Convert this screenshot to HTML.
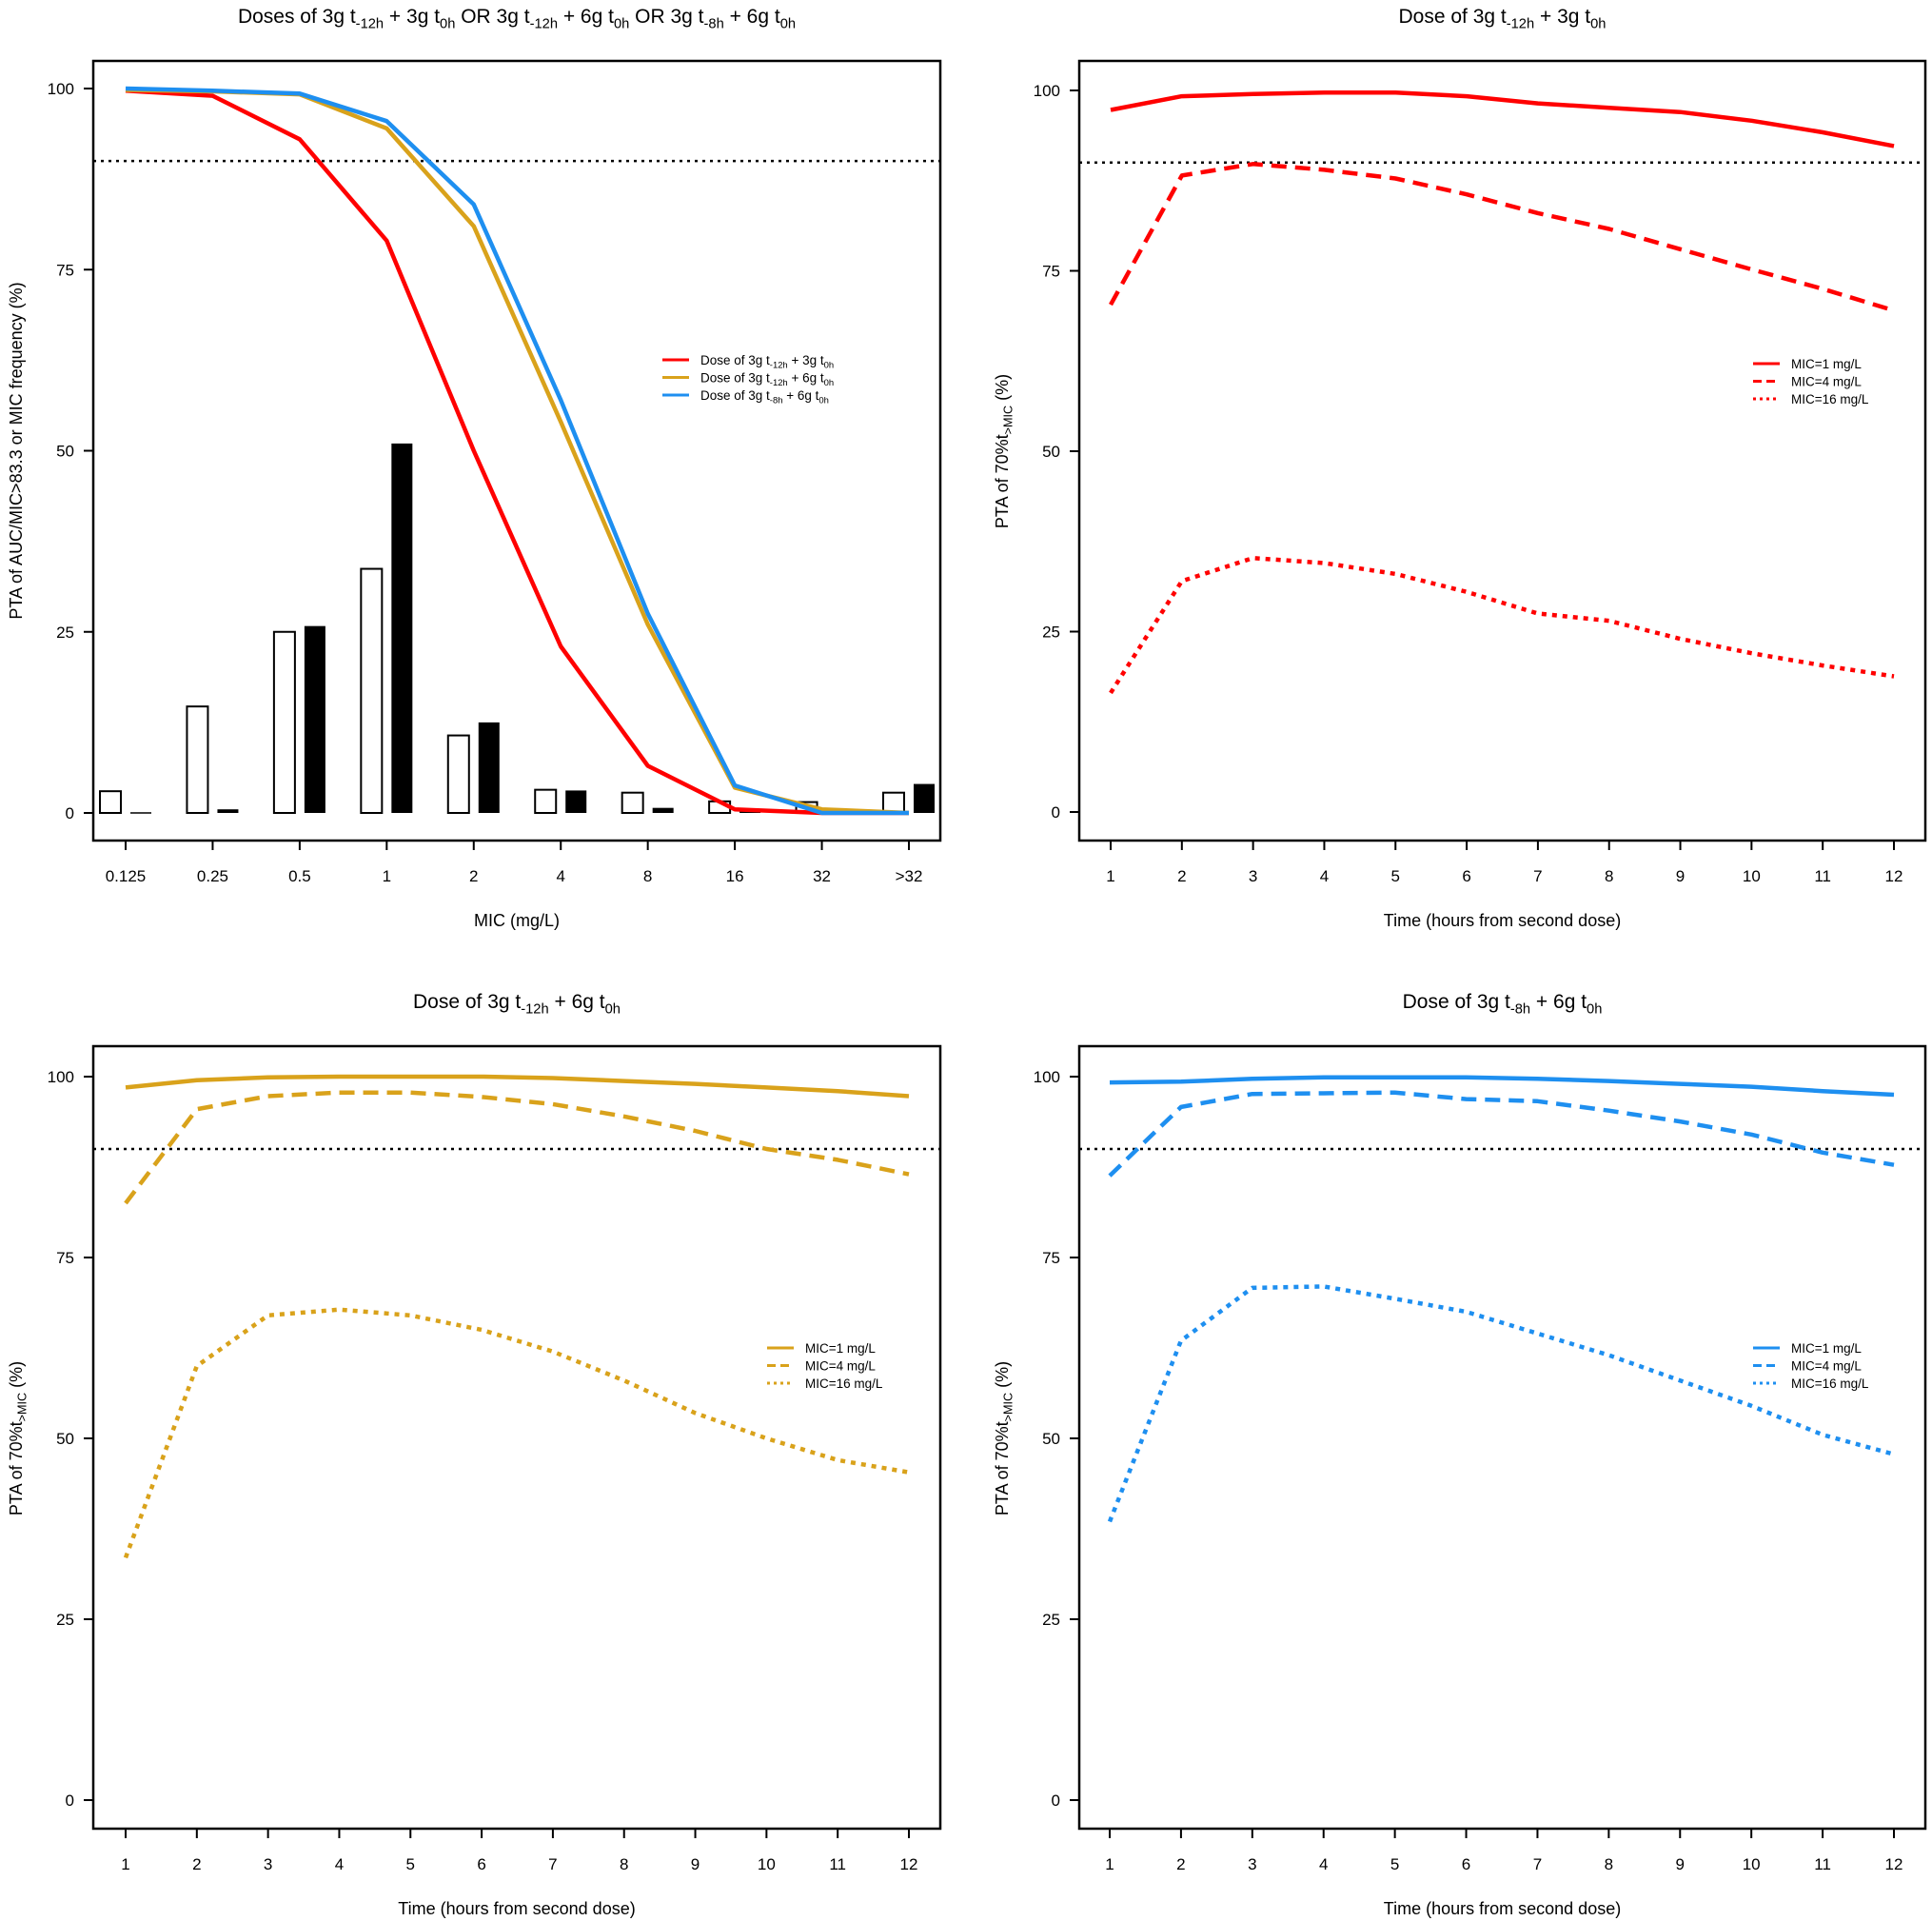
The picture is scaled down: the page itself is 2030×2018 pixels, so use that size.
<!DOCTYPE html>
<html><head><meta charset="utf-8"><style>
html,body{margin:0;padding:0;background:#fff;}
svg{display:block;font-family:"Liberation Sans",Arial,sans-serif;}
</style></head><body>
<svg id="chart" width="2030" height="2018" viewBox="0 0 2030 2018" xmlns="http://www.w3.org/2000/svg"></svg>
<script>
// ---------- data ----------
const micCats = ["0.125","0.25","0.5","1","2","4","8","16","32",">32"];
const redMic = [99.7,99,93,79,50,23,6.5,0.5,0,0];
const goldMic = [99.8,99.6,99.2,94.5,81,54,26,3.5,0.5,0];
const blueMic = [100,99.7,99.3,95.5,84,57,27.5,3.8,0,0];
const freqWhite = [3,14.7,25,33.7,10.7,3.2,2.8,1.6,1.5,2.8];
const freqBlack = [0.1,0.5,25.8,51,12.5,3.1,0.7,0.5,0.6,4];
const hours = [1,2,3,4,5,6,7,8,9,10,11,12];
const redSolid = [97.3,99.2,99.5,99.7,99.7,99.2,98.2,97.6,97,95.8,94.2,92.3];
const redDash = [70.3,88.2,89.8,89,87.8,85.6,83,80.8,78,75.2,72.5,69.5];
const redDot = [16.5,32,35.2,34.5,33,30.5,27.5,26.5,24,22,20.3,18.8];
const goldSolid = [98.5,99.5,99.9,100,100,100,99.8,99.4,99,98.5,98,97.3];
const goldDash = [82.5,95.5,97.3,97.8,97.8,97.2,96.2,94.5,92.5,90,88.5,86.5];
const goldDot = [33.5,60,67,67.8,67,65,62,58,53.5,50,47,45.3];
const blueSolid = [99.2,99.3,99.7,99.9,99.9,99.9,99.7,99.4,99,98.6,98,97.5];
const blueDash = [86.3,95.8,97.6,97.7,97.8,96.9,96.6,95.3,93.8,92,89.5,87.8];
const blueDot = [38.5,63.5,70.8,71,69.3,67.5,64.5,61.5,58,54.5,50.5,47.8];
const yTicks = [0,25,50,75,100];
const target = 90;

const RED="#ff0000", GOLD="#d9a21b", BLUE="#1e8ff0";
const NS="http://www.w3.org/2000/svg";
const svg=document.getElementById('chart');
function el(tag,attrs,parent){const e=document.createElementNS(NS,tag);for(const k in attrs)e.setAttribute(k,attrs[k]);(parent||svg).appendChild(e);return e;}

function sub(parent, parts, x, y, size, anchor, rot){
  const t=el('text',{x:x,y:y,'font-size':size,'text-anchor':anchor||'middle',fill:'#000'},parent);
  if(rot) t.setAttribute('transform',rot);
  parts.forEach(p=>{
    const ts=el('tspan',{},t);
    if(p[1]){ts.setAttribute('font-size',size*0.7);ts.setAttribute('dy',size*0.25);}
    else if(p[2]){ts.setAttribute('dy',-size*0.25);}
    ts.textContent=p[0];
  });
  return t;
}

function panel(name, box, xs, xlabels, y100, y0, title, xtitle, ytitle){
  const g=el('g',{});
  
  
  const yS=v=>y0+(y100-y0)*v/100;
  const xS=i=>xs[0]+(xs[1]-xs[0])*i/(xlabels.length-1);
  const frame=el('rect',{x:box[0],y:box[1],width:box[2]-box[0],height:box[3]-box[1],fill:'none',stroke:'#000','stroke-width':2.5},g);
  
  const yax=el('g',{},g);
  yTicks.forEach(v=>{
    el('line',{x1:box[0]-10,x2:box[0],y1:yS(v),y2:yS(v),stroke:'#000','stroke-width':2},yax);
    const t=el('text',{x:box[0]-20,y:yS(v)+6,'font-size':17,'text-anchor':'end'},yax);t.textContent=v;
    
  });
  const xax=el('g',{},g);
  xlabels.forEach((l,i)=>{
    el('line',{x1:xS(i),x2:xS(i),y1:box[3],y2:box[3]+10,stroke:'#000','stroke-width':2},xax);
    const t=el('text',{x:xS(i),y:box[3]+43,'font-size':17,'text-anchor':'middle'},xax);t.textContent=l;
    
  });
  const tt=sub(g,title,(box[0]+box[2])/2,box[1]-40,21);
  
  const xt=el('text',{x:(box[0]+box[2])/2,y:box[3]+90,'font-size':18,'text-anchor':'middle'},g);xt.textContent=xtitle;
  
  const cy=(y0+y100)/2, cx=box[0]-75;
  const yt=sub(g,ytitle,cx,cy,18,'middle','rotate(-90 '+cx+' '+cy+')');
  
  const tl=el('line',{x1:box[0],x2:box[2],y1:yS(target),y2:yS(target),stroke:'#000','stroke-width':2.5,'stroke-dasharray':'3,5'},g);
  
  return {g,xS,yS};
}
function series(p,vals,color,dash,name){
  const d=vals.map((v,i)=>(i?'L':'M')+p.xS(i).toFixed(1)+' '+p.yS(v).toFixed(1)).join(' ');
  const path=el('path',{d:d,fill:'none',stroke:color,'stroke-width':4.5,'stroke-linejoin':'round'},p.g);
  if(dash) path.setAttribute('stroke-dasharray',dash);
  
  
}
function legend(p,x,y,entries){
  const lg=el('g',{},p.g);
  
  
  entries.forEach((e,i)=>{
    const ly=y+i*18.5;
    const ln=el('line',{x1:x,x2:x+28,y1:ly,y2:ly,stroke:e.c,'stroke-width':3},lg);
    if(e.d) ln.setAttribute('stroke-dasharray',e.d);
    const t=sub(lg,e.t,x+40,ly+5,13.5,'start');
    
    
  });
}
const DASH='16,9', DOT='5,6', LDASH='9,5', LDOT='3,4';
const ptaTitle=[["PTA of 70%t"],[">MIC",1],[" (%)",0,1]];
const timeTitle="Time (hours from second dose)";

// Top-left
const p1=panel('panel-mic',[98,64,988,883],[132,955],micCats,93,854,
 [["Doses of 3g t"],["-12h",1],[" + 3g t",0,1],["0h",1],[" OR 3g t",0,1],["-12h",1],[" + 6g t",0,1],["0h",1],[" OR 3g t",0,1],["-8h",1],[" + 6g t",0,1],["0h",1]],
 "MIC (mg/L)",[["PTA of AUC/MIC>83.3 or MIC frequency (%)"]]);
freqWhite.forEach((v,i)=>{
  const r=el('rect',{x:p1.xS(i)-27,y:p1.yS(v),width:22,height:p1.yS(0)-p1.yS(v),fill:'#fff',stroke:'#000','stroke-width':2},p1.g);
  
});
freqBlack.forEach((v,i)=>{
  const r=el('rect',{x:p1.xS(i)+5,y:p1.yS(v),width:22,height:Math.max(1.5,p1.yS(0)-p1.yS(v)),fill:'#000'},p1.g);
  
});
series(p1,redMic,RED,null,'red-line');
series(p1,goldMic,GOLD,null,'gold-line');
series(p1,blueMic,BLUE,null,'blue-line');
legend(p1,696,378,[
 {c:RED,t:[["Dose of 3g t"],["-12h",1],[" + 3g t",0,1],["0h",1]]},
 {c:GOLD,t:[["Dose of 3g t"],["-12h",1],[" + 6g t",0,1],["0h",1]]},
 {c:BLUE,t:[["Dose of 3g t"],["-8h",1],[" + 6g t",0,1],["0h",1]]}]);

// Top-right
const p2=panel('panel-red',[1134,64,2023,883],[1167,1990],hours,95,853,
 [["Dose of 3g t"],["-12h",1],[" + 3g t",0,1],["0h",1]],timeTitle,ptaTitle);
series(p2,redSolid,RED,null,'mic1-line');series(p2,redDash,RED,DASH,'mic4-line');series(p2,redDot,RED,DOT,'mic16-line');
legend(p2,1842,382,[{c:RED,t:[["MIC=1 mg/L"]]},{c:RED,d:LDASH,t:[["MIC=4 mg/L"]]},{c:RED,d:LDOT,t:[["MIC=16 mg/L"]]}]);

// Bottom-left
const p3=panel('panel-gold',[98,1099,988,1921],[132,955],hours,1131,1891,
 [["Dose of 3g t"],["-12h",1],[" + 6g t",0,1],["0h",1]],timeTitle,ptaTitle);
series(p3,goldSolid,GOLD,null,'mic1-line');series(p3,goldDash,GOLD,DASH,'mic4-line');series(p3,goldDot,GOLD,DOT,'mic16-line');
legend(p3,806,1416,[{c:GOLD,t:[["MIC=1 mg/L"]]},{c:GOLD,d:LDASH,t:[["MIC=4 mg/L"]]},{c:GOLD,d:LDOT,t:[["MIC=16 mg/L"]]}]);

// Bottom-right
const p4=panel('panel-blue',[1134,1099,2023,1921],[1166,1990],hours,1131,1891,
 [["Dose of 3g t"],["-8h",1],[" + 6g t",0,1],["0h",1]],timeTitle,ptaTitle);
series(p4,blueSolid,BLUE,null,'mic1-line');series(p4,blueDash,BLUE,DASH,'mic4-line');series(p4,blueDot,BLUE,DOT,'mic16-line');
legend(p4,1842,1416,[{c:BLUE,t:[["MIC=1 mg/L"]]},{c:BLUE,d:LDASH,t:[["MIC=4 mg/L"]]},{c:BLUE,d:LDOT,t:[["MIC=16 mg/L"]]}]);
</script>
</body></html>
